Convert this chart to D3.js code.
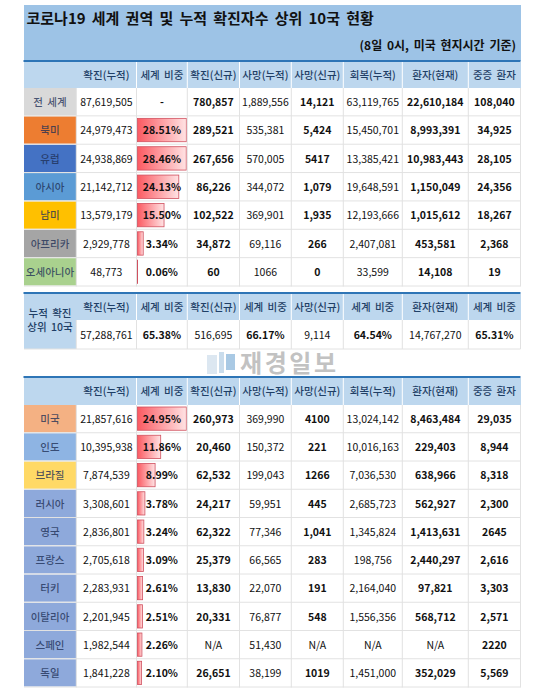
<!DOCTYPE html>
<html>
<head>
<meta charset="utf-8">
<script src="https://cdn.jsdelivr.net/npm/d3@7/dist/d3.min.js"></script>
<style>
  html, body { margin: 0; padding: 0; background: #fff; }
  svg { display: block; }
  text { font-family: "Noto Sans CJK KR", "Noto Sans", sans-serif; }
</style>
</head>
<body>
<svg id="chart"></svg>
<script>
const svg_width = 548;
const svg_height = 695;

// ---- data ----
const title = "코로나19 세계 권역 및 누적 확진자수 상위 10국 현황";
const subtitle = "(8일 0시, 미국 현지시간 기준)";

const headers_main = ["확진(누적)", "세계 비중", "확진(신규)", "사망(누적)", "사망(신규)", "회복(누적)", "환자(현재)", "중증 환자"];
const headers_top10 = ["확진(누적)", "세계 비중", "확진(신규)", "세계 비중", "사망(신규)", "세계 비중", "환자(현재)", "세계 비중"];

const regions = ["전 세계", "북미", "유럽", "아시아", "남미", "아프리카", "오세아니아"];
const region_colors = ["#d9d9d9", "#ed7d31", "#4472c4", "#5b9bd5", "#ffc000", "#a5a5a5", "#a9d18e"];
const region_cum = ["87,619,505", "24,979,473", "24,938,869", "21,142,712", "13,579,179", "2,929,778", "48,773"];
const region_share = [null, 28.51, 28.46, 24.13, 15.50, 3.34, 0.06];
const region_new = ["780,857", "289,521", "267,656", "86,226", "102,522", "34,872", "60"];
const region_deaths = ["1,889,556", "535,381", "570,005", "344,072", "369,901", "69,116", "1066"];
const region_new_deaths = ["14,121", "5,424", "5417", "1,079", "1,935", "266", "0"];
const region_recovered = ["63,119,765", "15,450,701", "13,385,421", "19,648,591", "12,193,666", "2,407,081", "33,599"];
const region_active = ["22,610,184", "8,993,391", "10,983,443", "1,150,049", "1,015,612", "453,581", "14,108"];
const region_severe = ["108,040", "34,925", "28,105", "24,356", "18,267", "2,368", "19"];

const top10_values = ["57,288,761", "65.38%", "516,695", "66.17%", "9,114", "64.54%", "14,767,270", "65.31%"];

const countries = ["미국", "인도", "브라질", "러시아", "영국", "프랑스", "터키", "이탈리아", "스페인", "독일"];
const country_colors = ["#f4b183", "#8eb4e3", "#ffd966", "#8ea9db", "#8ea9db", "#8ea9db", "#8ea9db", "#8ea9db", "#8ea9db", "#8ea9db"];
const country_cum = ["21,857,616", "10,395,938", "7,874,539", "3,308,601", "2,836,801", "2,705,618", "2,283,931", "2,201,945", "1,982,544", "1,841,228"];
const country_share = [24.95, 11.86, 8.99, 3.78, 3.24, 3.09, 2.61, 2.51, 2.26, 2.10];
const country_new = ["260,973", "20,460", "62,532", "24,217", "62,322", "25,379", "13,830", "20,331", "N/A", "26,651"];
const country_deaths = ["369,990", "150,372", "199,043", "59,951", "77,346", "66,565", "22,070", "76,877", "51,430", "38,199"];
const country_new_deaths = ["4100", "221", "1266", "445", "1,041", "283", "191", "548", "N/A", "1019"];
const country_recovered = ["13,024,142", "10,016,163", "7,036,530", "2,685,723", "1,345,824", "198,756", "2,164,040", "1,556,356", "N/A", "1,451,000"];
const country_active = ["8,463,484", "229,403", "638,966", "562,927", "1,413,631", "2,440,297", "97,821", "568,712", "N/A", "352,029"];
const country_severe = ["29,035", "8,944", "8,318", "2,300", "2645", "2,616", "3,303", "2,571", "2220", "5,569"];

// columns which are set in bold
const bold_main = [false, true, true, false, true, false, true, true];
const bold_top10 = [false, true, false, true, false, true, false, true];

// ---- layout ----
const col_edges = [24, 76.3, 136.5, 187.3, 239.5, 291.3, 343.3, 402.3, 468.3, 520.5];
const header_fill = "#bdd7ee";
const line_blue = "#2e75b6";
const grid = "#e2e2e2";
const text_dark = "#111";
const head_text = "#1f3f66";

const svg = d3.select("svg#chart")
    .attr("width", svg_width)
    .attr("height", svg_height);

const defs = svg.append("defs");
const grad = defs.append("linearGradient").attr("id", "barfill");
grad.append("stop").attr("offset", "0%").attr("stop-color", "#fb5a62");
grad.append("stop").attr("offset", "100%").attr("stop-color", "#ffe3e4");

function col_x(i) { return col_edges[i + 1]; }
function col_mid(i) { return (col_edges[i + 1] + col_edges[i + 2]) / 2; }

function draw_watermark() {
  const g = svg.append("g");
  g.append("rect").attr("x", 207).attr("y", 355).attr("width", 10).attr("height", 19)
    .attr("fill", "#dce7f1");
  g.append("rect").attr("x", 219).attr("y", 352).attr("width", 5).attr("height", 21)
    .attr("fill", "#c9dcec");
  g.append("rect").attr("x", 226).attr("y", 354).attr("width", 9).attr("height", 16)
    .attr("fill", "#a9c9e4");
  g.append("text")
    .attr("x", 240).attr("y", 372)
    .attr("font-size", 24)
    .attr("font-weight", 700)
    .attr("letter-spacing", 2.6)
    .attr("fill", "#c2c2c2")
    .text("재경일보");
}

function draw_title() {
  svg.append("rect").attr("x", 24).attr("y", 5).attr("width", 497).attr("height", 56).attr("fill", "#9dc3e6");
  svg.append("text")
    .attr("x", 26.5).attr("y", 23.5)
    .attr("font-size", 15)
    .attr("font-weight", 700)
    .attr("word-spacing", 2.8)
    .attr("fill", text_dark)
    .text(title);
  svg.append("text")
    .attr("x", 516).attr("y", 50)
    .attr("text-anchor", "end")
    .attr("font-size", 12)
    .attr("font-weight", 700)
    .attr("word-spacing", 2)
    .attr("fill", text_dark)
    .text(subtitle);
}

function draw_header(y0, y1, labels) {
  const g = svg.append("g");
  g.append("rect").attr("x", 23.5).attr("y", y0 - 2).attr("width", 497).attr("height", 2).attr("fill", line_blue);
  g.append("rect").attr("x", 24).attr("y", y0).attr("width", 497).attr("height", y1 - y0).attr("fill", header_fill);
  labels.forEach((d, i) => {
    g.append("text")
      .attr("x", col_mid(i)).attr("y", (y0 + y1) / 2)
      .attr("dy", "0.35em")
      .attr("text-anchor", "middle")
      .attr("font-size", 10.5)
      .attr("font-weight", 500)
      .attr("word-spacing", 2)
      .attr("fill", head_text)
      .text(d);
    if (i > 0) {
      g.append("line")
        .attr("x1", col_x(i)).attr("x2", col_x(i))
        .attr("y1", y0).attr("y2", y1)
        .attr("stroke", "#fff");
    }
  });
}

function draw_rows(names, colors, columns, shares, y_range) {
  const y = d3.scaleBand().domain(names).range(y_range);
  const x_share = d3.scaleLinear()
      .domain([0, d3.max(shares)])
      .range([0, col_edges[3] - col_edges[2] - 2]);
  const g = svg.append("g");

  const rows = g.selectAll("g.row")
    .data(names)
    .enter()
    .append("g")
    .attr("class", "row")
    .attr("transform", d => "translate(0," + y(d) + ")");

  rows.append("rect")
    .attr("x", 24).attr("y", 0)
    .attr("width", col_edges[1] - 24).attr("height", y.bandwidth() - 1)
    .attr("fill", (d, i) => colors[i]);

  rows.append("text")
    .attr("x", 50).attr("y", y.bandwidth() / 2)
    .attr("dy", "0.35em")
    .attr("text-anchor", "middle")
    .attr("font-size", 10.5)
    .attr("font-weight", 500)
    .attr("word-spacing", 2)
    .attr("fill", "#1f3056")
    .attr("fill-opacity", 0.8)
    .text(d => d);

  // in-cell bars
  rows.filter((d, i) => shares[i] !== null)
    .append("rect")
    .attr("x", col_edges[2] + 1)
    .attr("y", 2)
    .attr("width", d => x_share(shares[names.indexOf(d)]))
    .attr("height", y.bandwidth() - 5)
    .attr("fill", "url(#barfill)")
    .attr("stroke", "#d0505f")
    .attr("stroke-width", 0.8);

  // horizontal grid
  g.selectAll("line.h")
    .data(names)
    .enter()
    .append("line")
    .attr("class", "h")
    .attr("x1", 24).attr("x2", 520.5)
    .attr("y1", d => y(d) + y.bandwidth() - 0.5)
    .attr("y2", d => y(d) + y.bandwidth() - 0.5)
    .attr("stroke", grid);

  // vertical grid
  g.selectAll("line.v")
    .data(col_edges.slice(1))
    .enter()
    .append("line")
    .attr("class", "v")
    .attr("x1", d => d).attr("x2", d => d)
    .attr("y1", y_range[0]).attr("y2", y_range[1])
    .attr("stroke", grid);

  columns.forEach((values, c) => {
    g.selectAll("text.c" + c)
      .data(values)
      .enter()
      .append("text")
      .attr("class", "c" + c)
      .attr("x", col_mid(c))
      .attr("y", (d, i) => y(names[i]) + y.bandwidth() / 2)
      .attr("dy", "0.35em")
      .attr("text-anchor", "middle")
      .attr("font-size", 10.5)
      .attr("font-weight", d => (bold_main[c] && d !== "N/A") ? 700 : 400)
      .attr("fill", text_dark)
      .text(d => d);
  });
}

function fmt_share(d) {
  return d === null ? "-" : d.toFixed(2) + "%";
}

function draw_top10() {
  draw_header(294, 320, headers_top10);
  svg.append("rect").attr("x", 24).attr("y", 294).attr("width", 52).attr("height", 55).attr("fill", header_fill);
  ["누적 확진", "상위 10국"].forEach((d, i) => {
    svg.append("text")
      .attr("x", 50).attr("y", 317 + i * 13.7)
      .attr("text-anchor", "middle")
      .attr("font-size", 10.5)
      .attr("font-weight", 500)
      .attr("word-spacing", 2)
      .attr("fill", head_text)
      .text(d);
  });
  top10_values.forEach((d, i) => {
    svg.append("text")
      .attr("x", col_mid(i)).attr("y", 335)
      .attr("dy", "0.35em")
      .attr("text-anchor", "middle")
      .attr("font-size", 10.5)
      .attr("font-weight", bold_top10[i] ? 700 : 400)
      .attr("fill", text_dark)
      .text(d);
    svg.append("line")
      .attr("x1", col_x(i)).attr("x2", col_x(i))
      .attr("y1", 320).attr("y2", 349)
      .attr("stroke", grid);
  });
  svg.append("line")
    .attr("x1", 520.5).attr("x2", 520.5).attr("y1", 320).attr("y2", 349).attr("stroke", grid);
  svg.append("line")
    .attr("x1", 24).attr("x2", 520.5).attr("y1", 349).attr("y2", 349).attr("stroke", grid);
}

draw_watermark();
draw_title();
draw_header(62, 88, headers_main);
draw_rows(regions, region_colors,
  [region_cum, region_share.map(fmt_share), region_new, region_deaths, region_new_deaths, region_recovered, region_active, region_severe],
  region_share, [88, 286.5]);
draw_top10();
draw_header(378, 405, headers_main);
draw_rows(countries, country_colors,
  [country_cum, country_share.map(fmt_share), country_new, country_deaths, country_new_deaths, country_recovered, country_active, country_severe],
  country_share, [405, 687.5]);
</script>
</body>
</html>
